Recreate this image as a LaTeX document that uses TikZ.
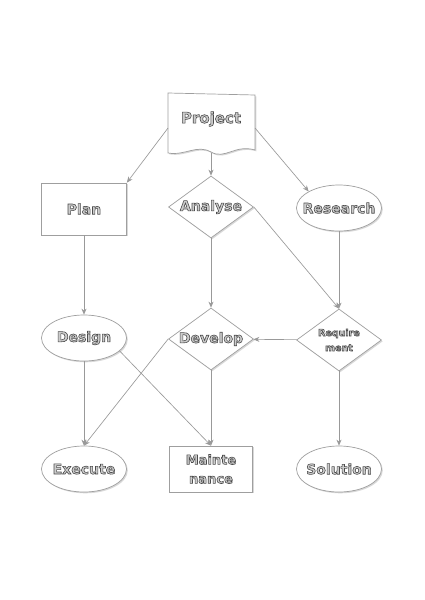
\documentclass[tikz,border=0pt]{standalone}
\usepackage{fontspec}
\setmainfont{DejaVu Sans}
\usetikzlibrary{shapes.geometric,shadows,arrows.meta}
\newcommand{\embtext}[1]{\textcolor{gray!40}{\special{pdf:literal direct 2 Tr 0.6 w 0.3 G}#1\special{pdf:literal direct 0 Tr}}}
\newcommand{\zbox}[1]{\makebox[0pt]{#1}}
\begin{document}
\begin{tikzpicture}[x=1pt,y=-1pt,
  every node/.style={font=\bfseries},
  shp/.style={draw=gray!75, line width=0.7pt, fill=white,
     drop shadow={opacity=0.3, shadow xshift=1.3pt, shadow yshift=-1.3pt}},
  boxnode/.style={shp, rectangle, minimum width=85pt, minimum height=52pt, font=\fontsize{14}{15}\bfseries},
  ellnode/.style={shp, ellipse, minimum width=85pt, minimum height=46pt, inner sep=0pt, font=\fontsize{14}{15}\bfseries},
  dianode/.style={shp, diamond, aspect=1.4, minimum width=85pt, minimum height=62pt, inner sep=0pt, font=\fontsize{14}{15}\bfseries},
  arr/.style={draw=gray!80, line width=0.65pt, -{Stealth[length=6pt,width=5pt]}}]
\useasboundingbox (0,0) rectangle (424,600);
\fill[white] (0,0) rectangle (424,600);
% Project document shape
\coordinate (ptl) at (168,93);
\draw[shp] (ptl) -- (255,95) -- (255,150) .. controls (235,144) and (225,160) .. (211,152) .. controls (197,144) and (185,156) .. (168,153) -- cycle;
\node[font=\fontsize{15}{16}\bfseries] (project) at (211,119) {\embtext{Project}};
\coordinate (pW) at (168,128);
\coordinate (pE) at (255,128);
\coordinate (pS) at (211,153);
% row 2
\node[boxnode] (plan) at (84,209) {\embtext{Plan}};
\node[dianode] (analyse) at (211,207) {\zbox{\embtext{Analyse}}};
\node[ellnode] (research) at (339,208) {\zbox{\embtext{Research}}};
% row 3
\node[ellnode] (design) at (84,338) {\zbox{\embtext{Design}}};
\node[dianode] (develop) at (211,339) {\zbox{\embtext{Develop}}};
\node[dianode, align=center, font=\fontsize{9.5}{15}\bfseries] (req) at (339,340) {\zbox{\embtext{Require}}\\\zbox{\embtext{ment}}};
% row 4
\node[ellnode] (execute) at (84,469) {\zbox{\embtext{Execute}}};
\node[boxnode, minimum width=83pt, minimum height=46pt, align=center, font=\fontsize{13}{19}\bfseries] (maint) at (211,469) {\embtext{Mainte}\\\embtext{nance}};
\node[ellnode] (solution) at (339,469) {\zbox{\embtext{Solution}}};
% connectors
\draw[arr] (pW) -- (plan.north east);
\draw[arr] (pS) -- (analyse.north);
\draw[arr] (pE) -- (research.north west);
\draw[arr] (plan) -- (design);
\draw[arr] (analyse) -- (develop);
\draw[arr] (analyse.east) -- (req.north);
\draw[arr] (research) -- (req);
\draw[arr] (req) -- (develop);
\draw[arr] (req) -- (solution);
\draw[arr] (design) -- (execute);
\draw[arr] (design.-20) -- (maint.north);
\draw[arr] (develop.west) -- (execute.north);
\draw[arr] (develop) -- (maint);
\end{tikzpicture}
\end{document}
